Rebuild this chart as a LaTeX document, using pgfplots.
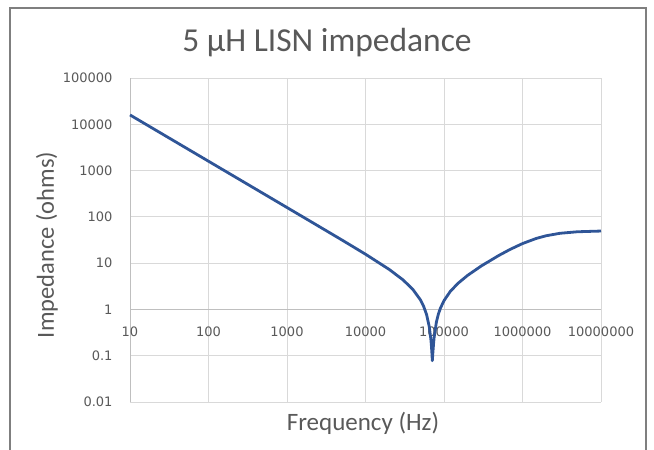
\documentclass[border=0pt]{standalone}
\usepackage{fontspec}
\setmainfont{Carlito}
\newfontfamily\tickfont{DejaVu Sans}
\usepackage{pgfplots}
\pgfplotsset{compat=1.18}
\definecolor{txt}{HTML}{595959}
\definecolor{gridc}{HTML}{D9D9D9}
\definecolor{axc}{HTML}{BFBFBF}
\definecolor{linec}{HTML}{2F5597}
\definecolor{framec}{HTML}{7F7F7F}
\begin{document}
\begin{tikzpicture}[x=1pt,y=1pt]
\useasboundingbox (0,0) rectangle (654,450);
\draw[framec, line width=1.5pt] (10,-20) rectangle (646,442);
\begin{axis}[
  at={(130pt,48pt)}, anchor=south west,
  scale only axis, width=471pt, height=324pt,
  xmode=log, ymode=log,
  xmin=10, xmax=1e7, ymin=0.01, ymax=1e5,
  axis x line=middle, axis y line=left,
  hide obscured x ticks=false, hide obscured y ticks=false,
  axis line style={-, axc, line width=0.8pt},
  xtick={10,100,1000,10000,100000,1000000,10000000},
  xticklabels={10,100,1000,10000,100000,1000000,10000000},
  ytick={0.01,0.1,1,10,100,1000,10000,100000},
  yticklabels={0.01,0.1,1,10,100,1000,10000,100000},
  minor tick style={draw=none}, minor tick length=0pt,
  major tick length=0pt,
  grid=major, major grid style={gridc, line width=0.8pt},
  /pgf/number format/assume math mode=true,
  tick label style={font=\tickfont\fontsize{13}{15}\selectfont, text=txt},
  xticklabel style={anchor=center, yshift=-22pt},
  yticklabel style={anchor=east, xshift=-14pt},
  clip=false,
]
\addplot[linec, line width=2.8pt, line join=round] coordinates {
(10,15915) (20,7958) (50,3183) (100,1591.5) (200,795.8) (500,318.3)
(1000,159.1) (2000,79.5) (5000,31.7) (10000,15.60) (20000,7.33)
(30000,4.363) (40000,2.723) (50000,1.615) (55000,1.169) (60000,0.774)
(65000,0.418) (68000,0.227) (69000,0.171) (70000,0.120) (71000,0.078)
(72000,0.110) (73000,0.151) (74000,0.201) (75000,0.254) (80000,0.533)
(85000,0.803) (90000,1.062) (100000,1.550) (120000,2.439) (150000,3.637)
(200000,5.446) (300000,8.741) (500000,14.68) (700000,19.92)
(1000000,26.47) (1500000,34.22) (2000000,39.07) (3000000,44.15)
(5000000,47.63) (10000000,49.38)
};
\end{axis}
\node[text=txt, font=\fontsize{33.5}{38}\selectfont] at (327,407) {5 µH LISN impedance};
\node[text=txt, font=\fontsize{25}{29}\selectfont] at (363,27) {Frequency (Hz)};
\node[text=txt, font=\fontsize{24.5}{29}\selectfont, rotate=90] at (47,205) {Impedance (ohms)};
\end{tikzpicture}
\end{document}
